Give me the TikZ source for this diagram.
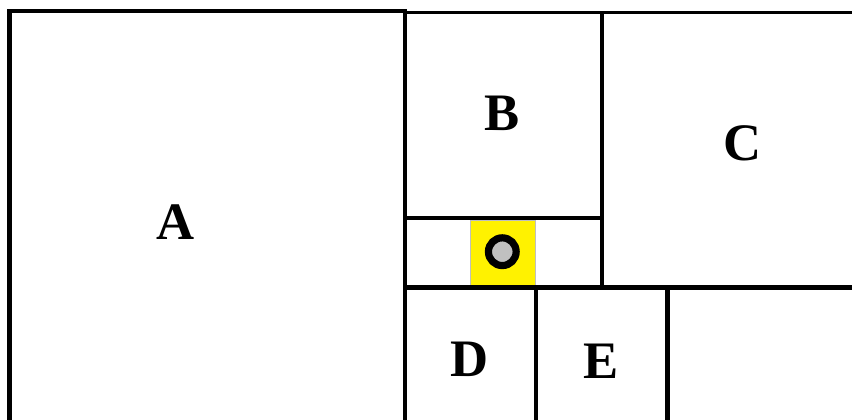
\documentclass[tikz,border=0pt]{standalone}
\usepackage{fontspec}
\setmainfont{Liberation Serif}
\definecolor{cellyellow}{RGB}{255,242,0}
\definecolor{dotgrey}{RGB}{192,192,192}
\tikzset{
  wall/.style={draw=black,line width=3.2pt,line cap=butt},
  outerwall/.style={draw=black,line width=3.7pt,line cap=butt},
  thinwall/.style={draw=black,line width=2.8pt,line cap=butt},
  letter/.style={font=\fontsize{39.5}{40}\selectfont\bfseries,inner sep=0pt,text=black},
  cell/.style={fill=cellyellow,draw=black!25,line width=0.6pt},
  dot/.style={circle,fill=dotgrey,draw=black,line width=5.4pt,minimum size=20.8pt,inner sep=0pt}
}
\begin{document}
\begin{tikzpicture}[x=0.75pt,y=-0.75pt]
\useasboundingbox[fill=white] (0,0) rectangle (852,420);
% yellow cell
\path[cell] (470.7,220) rectangle (535.8,285);
\node[dot] (hole) at (502.3,251.7) {};
% outer frame of A
\draw[outerwall] (9.5,420) -- (9.5,11) -- (407,11);
\draw[thinwall] (405,12.5) -- (852,12.5);
% verticals
\draw[wall] (405,11) -- (405,420);
\draw[wall] (602,12.5) -- (602,287);
\draw[wall] (536,287) -- (536,420);
\draw[wall] (667.5,287) -- (667.5,420);
% horizontals
\draw[wall] (405,218) -- (604,218);
\draw[wall] (403,287.5) -- (852,287.5);
% labels
\node[letter] (A) at (176,222) {A};
\node[letter] (B) at (502.5,113) {B};
\node[letter] (C) at (742.5,143) {C};
\node[letter] (D) at (469.5,359) {D};
\node[letter] (E) at (601,361) {E};
\end{tikzpicture}
\end{document}
